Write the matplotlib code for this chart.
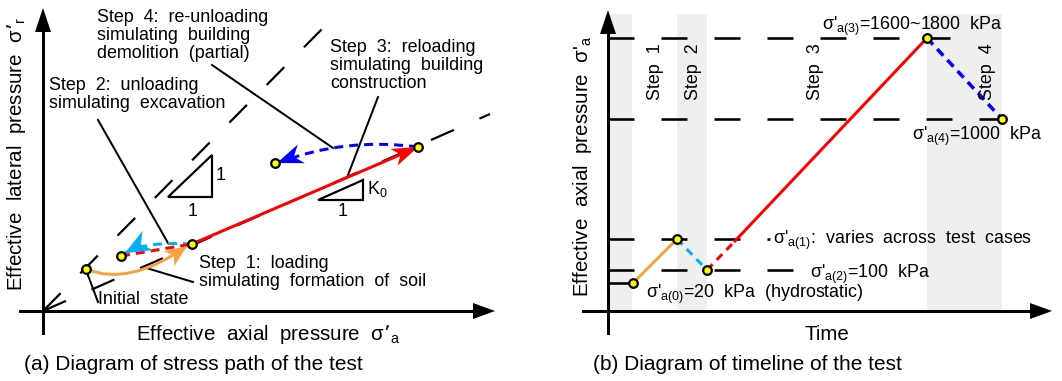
import numpy as np
import matplotlib
matplotlib.use('Agg')
import matplotlib.pyplot as plt
from matplotlib.patches import Polygon, PathPatch
from matplotlib.path import Path

plt.rcParams['font.family'] = ['Liberation Sans', 'DejaVu Sans']
plt.rcParams['lines.scale_dashes'] = False

# ---- (a) stress path, schematic units (sigma'_a, sigma'_r) ----
initial_state = (43, 42)
step1_end = (149, 67)
step2_end = (78, 55)
step3_end = (375, 164)
step4_end = (232, 148)
hydro_line_x = [0, 280]
hydro_line_y = [0, 283]
k0_line_x = [0, 447]
k0_line_y = [0, 197]
# quadratic curves: start, control, arrow tip
step1_curve = [initial_state, (86, 24), (144, 65)]
step2_curve = [step1_end, (104, 70), (82, 58)]
step4_curve = [step3_end, (303, 174), (234, 148)]
tri_1to1 = [(125, 114), (169, 114), (169, 156)]
tri_k0 = [(275, 111), (320, 111), (320, 131)]

# ---- (b) timeline ----
time_pts = [25, 69, 99, 319, 394]
sigma_pts = [28, 72, 41, 273, 192]
step3_break = (127, 70)
levels = [273, 192, 72, 41, 28]
level_ends = [342, 394, 162, 185, 25]
step_bands = [(0, 24), (69, 99), (319, 394)]
step_names = ['Step  1', 'Step  2', 'Step  3', 'Step  4']
step_label_x = [47, 85, 207, 380]

ORANGE = '#f9a03f'
CYAN = '#00b0f0'
RED = '#ff0000'
BLUE = '#0000ff'
FS = 12.9
FS_AX = 14.8
FS_CAP = 15


def px(v):
    return v * 0.72


def dashed(ax, xs, ys, color, lw, on, off, z=2):
    ax.plot(xs, ys, color=color, lw=px(lw), linestyle=(0, (px(on), px(off))),
            dash_capstyle='butt', solid_capstyle='butt', zorder=z)


def curve(ax, pts, color, lw, dash=None, z=3):
    path = Path(pts, [Path.MOVETO, Path.CURVE3, Path.CURVE3])
    ls = '-' if dash is None else (0, (px(dash[0]), px(dash[1])))
    ax.add_patch(PathPatch(path, fill=False, edgecolor=color, lw=px(lw),
                           linestyle=ls, capstyle='butt', zorder=z))


def head(ax, tip, back, length, width, notch, color, z=4):
    tip = np.array(tip, float)
    u = tip - np.array(back, float)
    u /= np.linalg.norm(u)
    n = np.array([-u[1], u[0]])
    base = tip - length * u
    pts = [tip, base + n * width / 2, tip - (length - notch) * u, base - n * width / 2]
    ax.add_patch(Polygon(pts, closed=True, facecolor=color, edgecolor='none', zorder=z))


def axis_arrows(ax, x0, x1, y0, y1):
    ax.plot([x0, x1 - 10], [0, 0], color='black', lw=px(3), zorder=5)
    ax.plot([0, 0], [y0, y1 - 10], color='black', lw=px(3), zorder=5)
    head(ax, (x1, 0), (0, 0), 22, 16, 0, 'black', z=5)
    head(ax, (0, y1), (0, 0), 24, 16, 0, 'black', z=5)


def dot(ax, x, y):
    ax.plot(x, y, 'o', ms=6.2, mfc='#ffff00', mec='black', mew=1.6, zorder=6)


def block(ax, x, y0, lines, step=18):
    for i, s in enumerate(lines):
        ax.text(x, y0 - i * step, s, ha='left', va='center_baseline', fontsize=FS)


def main():
    fig = plt.figure(figsize=(10.62, 3.81), dpi=100)

    # ================= (a) =================
    ax = fig.add_axes([0, 0, 0.5, 1])
    ax.set_xlim(-43, 531 - 43)
    ax.set_ylim(-70, 311)
    ax.set_axis_off()

    dashed(ax, hydro_line_x, hydro_line_y, 'black', 2.2, 25, 28, z=1)
    dashed(ax, k0_line_x, k0_line_y, 'black', 2.2, 25, 28, z=1)
    axis_arrows(ax, -23, 452, -22, 303)

    for tri in (tri_1to1, tri_k0):
        ax.add_patch(Polygon(tri, closed=True, fill=False, edgecolor='black',
                             lw=px(2.2), joinstyle='miter', zorder=2))
    ax.text(178, 136, '1', fontsize=FS, ha='center', va='center')
    ax.text(150, 100, '1', fontsize=FS, ha='center', va='center')
    ax.text(300, 100, '1', fontsize=FS, ha='center', va='center')
    ax.text(324, 122, r'K$_\mathregular{0}$', fontsize=FS, ha='left', va='center')

    # leader lines
    leaders = [((169, 246), (290, 163)), ((335, 214), (305, 136)),
               ((55, 191), (125, 68)), ((100, 44), (150, 29)), ((43, 41), (55, 9))]
    for a, b in leaders:
        ax.plot([a[0], b[0]], [a[1], b[1]], color='black', lw=px(2), zorder=2)

    # step 1 (orange curve)
    curve(ax, step1_curve, ORANGE, 3)
    head(ax, step1_curve[2], step1_curve[1], 22, 18, 6, ORANGE)
    # step 2 (cyan dashed)
    curve(ax, step2_curve, CYAN, 3, dash=(9, 6))
    head(ax, step2_curve[2], step2_curve[1], 26, 22, 8, CYAN)
    # step 3 (red dashed then solid)
    dashed(ax, [step2_end[0], step1_end[0]], [step2_end[1], step1_end[1]], RED, 3, 9, 6, z=3)
    ax.plot([step1_end[0], step3_end[0] - 10], [step1_end[1], step3_end[1] - 4.4],
            color=RED, lw=px(3), solid_capstyle='butt', zorder=3)
    head(ax, step3_end, step1_end, 26, 18, 7, RED)
    # step 4 (blue dashed)
    curve(ax, step4_curve, BLUE, 3, dash=(9, 6))
    head(ax, step4_curve[2], step4_curve[1], 26, 20, 8, BLUE)

    for p in (initial_state, step1_end, step2_end, step3_end, step4_end):
        dot(ax, *p)

    block(ax, 54, 296, ['Step  4:  re-unloading', 'simulating  building',
                        'demolition  (partial)'])
    block(ax, 287, 265, ['Step  3:  reloading', 'simulating  building', 'construction'])
    block(ax, 6, 227, ['Step  2:  unloading', 'simulating  excavation'])
    block(ax, 156, 50, ['Step  1:  loading', 'simulating  formation  of  soil'])
    block(ax, 55, 14, ['Initial  state'])
    ax.text(225, -21, "Effective  axial  pressure  σ’$_\\mathregular{a}$", fontsize=FS_AX,
            ha='center', va='center_baseline')
    ax.text(-26, 157, "Effective  lateral  pressure  σ’$_\\mathregular{r}$", fontsize=FS_AX,
            ha='center', va='center', rotation=90)
    ax.text(-19, -52, '(a) Diagram of stress path of the test', fontsize=FS_CAP,
            ha='left', va='center_baseline')

    # ================= (b) =================
    bx = fig.add_axes([0.5, 0, 0.5, 1])
    bx.set_xlim(-77, 454)
    bx.set_ylim(-70, 311)
    bx.set_axis_off()

    for a, b in step_bands:
        bx.axvspan(a, b, ymin=70 / 381, ymax=(70 + 297) / 381, color='#efefef', lw=0, zorder=0)
    for lev, end in zip(levels, level_ends):
        dashed(bx, [0, end], [lev, lev], 'black', 2.6, 26, 27, z=1)
    axis_arrows(bx, -25, 444, -22, 301)

    bx.plot(time_pts[:2], sigma_pts[:2], color=ORANGE, lw=px(3), zorder=3)
    dashed(bx, time_pts[1:3], sigma_pts[1:3], CYAN, 3, 8, 6, z=3)
    dashed(bx, [time_pts[2], step3_break[0]], [sigma_pts[2], step3_break[1]], RED, 3, 8, 6, z=3)
    bx.plot([step3_break[0], time_pts[3]], [step3_break[1], sigma_pts[3]], color=RED,
            lw=px(3), zorder=3)
    dashed(bx, time_pts[3:5], sigma_pts[3:5], BLUE, 3.5, 9, 6, z=3)
    for t, s in zip(time_pts, sigma_pts):
        dot(bx, t, s)

    for name, x in zip(step_names, step_label_x):
        bx.text(x, 239, name, fontsize=FS, rotation=90, ha='center', va='center')

    sig = "σ'$_\\mathregular{a(%d)}$"
    bx.text(214, 289, sig % 3 + '=1600~1800  kPa', fontsize=FS, va='center_baseline')
    bx.text(304, 179, sig % 4 + '=1000  kPa', fontsize=FS, va='center_baseline')
    bx.text(165, 75, sig % 1 + ':  varies  across  test  cases', fontsize=FS, va='center_baseline')
    bx.text(202, 41, sig % 2 + '=100  kPa', fontsize=FS, va='center_baseline')
    bx.text(38, 21, sig % 0 + '=20  kPa  (hydrostatic)', fontsize=FS, va='center_baseline')
    bx.text(219, -21, 'Time', fontsize=FS_AX, ha='center', va='center_baseline')
    bx.text(-25, 145, "Effective  axial  pressure  σ'$_\\mathregular{a}$", fontsize=FS_AX,
            ha='center', va='center', rotation=90)
    bx.text(-15, -52, '(b) Diagram of timeline of the test', fontsize=FS_CAP,
            ha='left', va='center_baseline')

    fig.savefig('out.png', dpi=100)


if __name__ == '__main__':
    main()
